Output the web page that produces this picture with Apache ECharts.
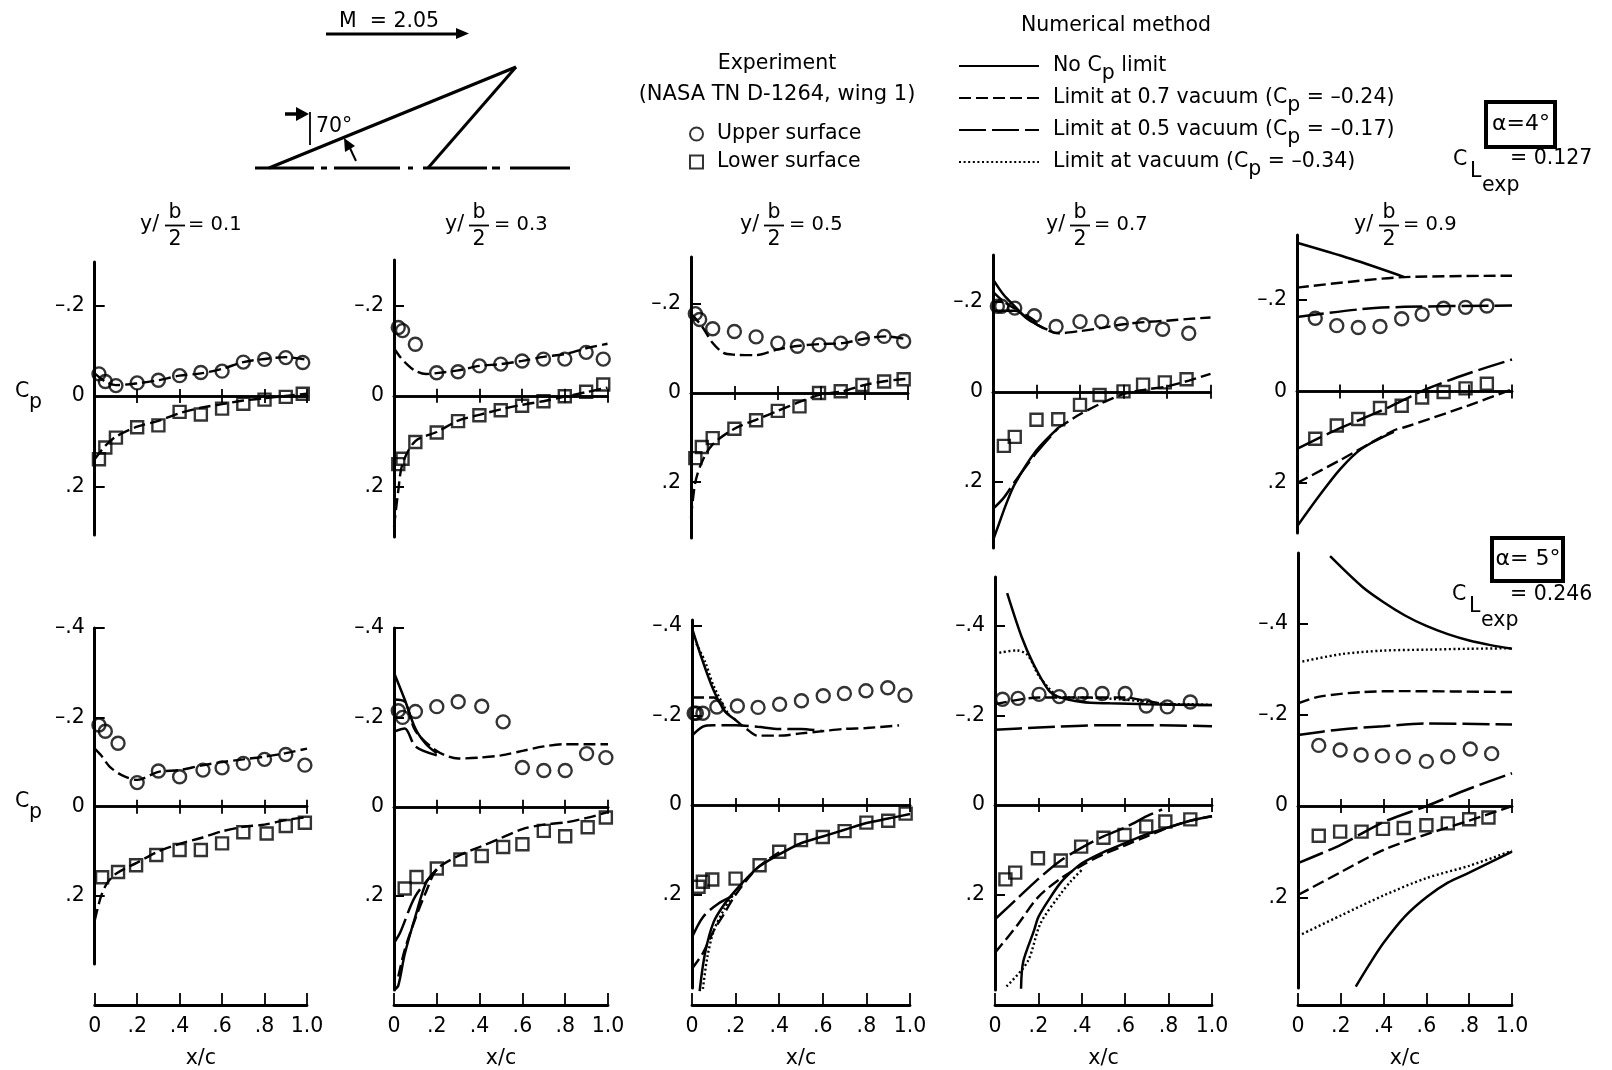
<!DOCTYPE html>
<html><head><meta charset="utf-8">
<style>html,body{margin:0;padding:0;background:#fff}#c{width:1612px;height:1070px}</style>
<script src="https://cdn.jsdelivr.net/npm/echarts@6/dist/echarts.min.js"></script>
</head><body><div id="c"></div>
<script>
// ---------- tick labels and names ----------
const xTicks = [0, .2, .4, .6, .8, 1];
const yTicksTop = [-.2, 0, .2];
const yTicksBottom = [-.4, -.2, 0, .2];
const methodNames = ['No Cp limit', 'Limit at 0.7 vacuum (Cp = -0.24)', 'Limit at 0.5 vacuum (Cp = -0.17)', 'Limit at vacuum (Cp = -0.34)'];
const surfaceNames = ['Upper surface', 'Lower surface'];
const spanStations = ['0.1', '0.3', '0.5', '0.7', '0.9'];

// ---------- alpha = 4 deg : experiment ----------
const a4s1Up = [[.02,-.049],[.05,-.032],[.1,-.023],[.2,-.029],[.3,-.035],[.4,-.045],[.5,-.052],[.6,-.055],[.7,-.075],[.8,-.081],[.9,-.085],[.98,-.074]];
const a4s1Lo = [[.02,.14],[.05,.114],[.1,.092],[.2,.069],[.3,.065],[.4,.035],[.5,.041],[.6,.028],[.7,.017],[.8,.008],[.9,.002],[.98,-.005]];
const a4s3Up = [[.02,-.151],[.04,-.144],[.1,-.114],[.2,-.051],[.3,-.053],[.4,-.066],[.5,-.07],[.6,-.077],[.7,-.081],[.8,-.081],[.9,-.096],[.98,-.081]];
const a4s3Lo = [[.02,.151],[.04,.139],[.1,.102],[.2,.081],[.3,.056],[.4,.043],[.5,.032],[.6,.022],[.7,.012],[.8,.001],[.9,-.009],[.98,-.025]];
const a4s5Up = [[.02,-.178],[.04,-.165],[.1,-.144],[.2,-.138],[.3,-.126],[.4,-.112],[.49,-.105],[.59,-.108],[.69,-.112],[.79,-.122],[.89,-.127],[.98,-.116]];
const a4s5Lo = [[.02,.146],[.05,.121],[.1,.101],[.2,.08],[.3,.061],[.4,.04],[.5,.03],[.59,0],[.69,-.004],[.79,-.018],[.89,-.026],[.98,-.031]];
const a4s7Up = [[.02,-.19],[.04,-.19],[.1,-.186],[.19,-.169],[.29,-.145],[.4,-.156],[.5,-.156],[.59,-.151],[.69,-.149],[.78,-.139],[.9,-.13]];
const a4s7Lo = [[.05,.12],[.1,.1],[.2,.062],[.3,.061],[.4,.029],[.49,.007],[.6,-.001],[.69,-.016],[.79,-.021],[.89,-.028]];
const a4s9Up = [[.085,-.16],[.185,-.144],[.285,-.14],[.386,-.142],[.487,-.159],[.582,-.169],[.682,-.182],[.784,-.184],[.883,-.187]];
const a4s9Lo = [[.085,.103],[.185,.074],[.285,.06],[.386,.036],[.487,.031],[.582,.013],[.682,.001],[.784,-.007],[.883,-.017]];

// ---------- alpha = 4 deg : numerical method ----------
const a4s1L7Up = [[0,-.05],[.05,-.032],[.1,-.024],[.2,-.028],[.3,-.035],[.4,-.045],[.5,-.05],[.6,-.06],[.7,-.075],[.8,-.082],[.9,-.086],[1,-.08]];
const a4s1L7Lo = [[0,.14],[.05,.11],[.1,.09],[.2,.068],[.3,.055],[.4,.038],[.5,.026],[.6,.018],[.7,.01],[.8,.005],[.9,0],[1,-.005]];
const a4s3L7Up = [[0,-.105],[.03,-.085],[.06,-.07],[.1,-.055],[.15,-.048],[.2,-.05],[.3,-.056],[.4,-.066],[.5,-.07],[.6,-.077],[.7,-.086],[.8,-.092],[.9,-.105],[1,-.115]];
const a4s3L7Lo = [[0,.29],[.02,.21],[.04,.15],[.1,.1],[.2,.08],[.3,.055],[.4,.042],[.5,.03],[.6,.02],[.7,.012],[.8,.002],[.9,-.008],[1,-.018]];
const a4s5L7Up = [[0,-.178],[.05,-.15],[.1,-.112],[.15,-.09],[.2,-.086],[.3,-.085],[.4,-.098],[.5,-.106],[.6,-.11],[.7,-.112],[.8,-.122],[.9,-.127],[1,-.12]];
const a4s5L7Lo = [[0,.28],[.02,.2],[.05,.155],[.1,.115],[.2,.08],[.3,.06],[.4,.04],[.5,.02],[.6,.003],[.7,-.004],[.8,-.018],[.9,-.027],[1,-.032]];
const a4s7NoUp = [[0,-.25],[.05,-.215],[.1,-.19],[.15,-.165],[.2,-.15],[.25,-.138]];
const a4s7L7Up = [[0,-.222],[.05,-.2],[.1,-.185],[.2,-.15],[.3,-.13],[.4,-.135],[.5,-.142],[.6,-.15],[.7,-.155],[.8,-.158],[.9,-.162],[1,-.165]];
const a4s7L5Up = [[0,-.18],[.1,-.18],[.2,-.155]];
const a4s7NoLo = [[0,.33],[.03,.29],[.06,.25],[.1,.205],[.2,.13],[.3,.08]];
const a4s7L5Lo = [[0,.26],[.05,.235],[.1,.2],[.2,.135],[.3,.08]];
const a4s7L7Lo = [[.3,.08],[.4,.05],[.5,.025],[.6,.005],[.7,-.005],[.8,-.012],[.9,-.025],[1,-.04]];
const a4s9NoUp = [[0,-.325],[.25,-.29],[.5,-.25]];
const a4s9L7Up = [[0,-.227],[.25,-.24],[.5,-.25],[1,-.253]];
const a4s9L5Up = [[0,-.163],[.3,-.18],[.5,-.185],[1,-.188]];
const a4s9L5Lo = [[0,.125],[.2,.08],[.4,.04],[.6,-.005],[.8,-.04],[1,-.07]];
const a4s9L7Lo = [[0,.2],[.2,.15],[.45,.085],[.5,.078],[.8,.03],[1,-.005]];
const a4s9NoLo = [[0,.295],[.1,.23],[.2,.17],[.3,.125],[.45,.088]];

// ---------- alpha = 5 deg : experiment ----------
const a5s1Up = [[.02,-.183],[.05,-.169],[.11,-.142],[.2,-.054],[.3,-.08],[.4,-.067],[.51,-.082],[.6,-.087],[.7,-.097],[.8,-.106],[.9,-.117],[.99,-.093]];
const a5s1Lo = [[.035,.158],[.11,.146],[.195,.131],[.29,.108],[.4,.097],[.5,.097],[.6,.082],[.7,.057],[.81,.06],[.9,.043],[.99,.036]];
const a5s3Up = [[.02,-.215],[.04,-.2],[.1,-.213],[.2,-.224],[.3,-.235],[.41,-.225],[.51,-.19],[.6,-.088],[.7,-.081],[.8,-.081],[.9,-.119],[.99,-.11]];
const a5s3Lo = [[.05,.183],[.105,.157],[.2,.138],[.31,.118],[.41,.11],[.51,.09],[.6,.084],[.7,.054],[.8,.066],[.905,.046],[.99,.024]];
const a5s5Up = [[.01,-.205],[.02,-.205],[.05,-.205],[.114,-.219],[.208,-.221],[.303,-.218],[.402,-.225],[.502,-.233],[.602,-.244],[.699,-.249],[.798,-.255],[.898,-.262],[.977,-.245]];
const a5s5Lo = [[.03,.182],[.05,.171],[.093,.166],[.2,.164],[.31,.134],[.4,.104],[.5,.078],[.6,.071],[.7,.058],[.8,.039],[.9,.035],[.98,.019]];
const a5s7Up = [[.035,-.236],[.106,-.238],[.203,-.247],[.296,-.242],[.397,-.247],[.494,-.249],[.6,-.249],[.697,-.221],[.794,-.219],[.9,-.23]];
const a5s7Lo = [[.048,.166],[.093,.151],[.198,.119],[.303,.124],[.397,.093],[.5,.073],[.597,.067],[.697,.048],[.785,.037],[.9,.032]];
const a5s9Up = [[.097,-.133],[.197,-.123],[.295,-.112],[.394,-.11],[.492,-.108],[.6,-.098],[.7,-.108],[.805,-.125],[.905,-.115]];
const a5s9Lo = [[.097,.065],[.197,.056],[.297,.056],[.397,.05],[.494,.048],[.6,.042],[.7,.038],[.8,.029],[.89,.025]];

// ---------- alpha = 5 deg : numerical method ----------
const a5s1L7Up = [[0,-.13],[.03,-.115],[.07,-.09],[.13,-.07],[.2,-.06],[.3,-.078],[.4,-.082],[.5,-.092],[.6,-.1],[.7,-.106],[.8,-.112],[.9,-.12],[1,-.13]];
const a5s1L7Lo = [[0,.255],[.03,.2],[.06,.17],[.1,.15],[.2,.125],[.3,.1],[.4,.083],[.5,.07],[.6,.055],[.7,.045],[.8,.04],[.9,.03],[1,.023]];
const a5s3NoUp = [[0,-.3],[.05,-.24],[.1,-.175],[.15,-.14],[.2,-.12]];
const a5s3L5Up = [[0,-.168],[.05,-.175],[.1,-.135],[.2,-.115]];
const a5s3L7Up = [[0,-.24],[.05,-.235],[.1,-.17],[.2,-.125],[.3,-.108],[.4,-.11],[.5,-.115],[.6,-.125],[.7,-.135],[.8,-.14],[.9,-.14],[1,-.14]];
const a5s3NoLo = [[0,.41],[.02,.4],[.05,.33],[.1,.245],[.15,.17],[.2,.14]];
const a5s3L5Lo = [[0,.305],[.03,.28],[.1,.2],[.2,.14]];
const a5s3L7Lo = [[.02,.38],[.05,.32],[.1,.25],[.15,.19],[.2,.14],[.3,.11],[.4,.09],[.5,.07],[.6,.05],[.7,.04],[.8,.035],[.9,.025],[1,.012]];
const a5s5NoUp = [[0,-.395],[.05,-.32],[.1,-.255],[.15,-.21],[.2,-.19]];
const a5s5VacUp = [[.02,-.36],[.06,-.32],[.1,-.265],[.17,-.2]];
const a5s5L7Up = [[0,-.24],[.1,-.24],[.15,-.21],[.2,-.19],[.25,-.17],[.3,-.155],[.4,-.155],[.5,-.16],[.6,-.165],[.7,-.17],[.8,-.172],[.95,-.178]];
const a5s5L5Up = [[0,-.155],[.05,-.175],[.1,-.178],[.2,-.178],[.3,-.175],[.4,-.17],[.5,-.17],[.6,-.165]];
const a5s5L5Lo = [[0,.295],[.05,.25],[.12,.22],[.2,.2]];
const a5s5L7Lo = [[0,.365],[.05,.33],[.1,.28],[.15,.24],[.2,.2],[.3,.14],[.4,.105]];
const a5s5NoLo = [[.035,.415],[.06,.33],[.1,.26],[.15,.22],[.2,.19],[.3,.14],[.4,.11],[.5,.085],[.6,.07],[.7,.055],[.8,.04],[.9,.03],[1,.02]];
const a5s5VacLo = [[.05,.41],[.07,.34],[.1,.28],[.15,.23],[.2,.19]];
const a5s7NoUp = [[.056,-.473],[.123,-.375],[.176,-.316],[.247,-.256],[.29,-.242],[.4,-.23],[.53,-.227],[.7,-.225],[1,-.223]];
const a5s7VacUp = [[.02,-.34],[.1,-.345],[.15,-.335],[.2,-.29],[.25,-.26],[.3,-.24],[.4,-.24],[.6,-.235],[.7,-.23],[.8,-.225],[.9,-.225],[1,-.223]];
const a5s7L7Up = [[0,-.225],[.2,-.24],[.6,-.24],[.7,-.232],[.8,-.225],[1,-.223]];
const a5s7L5Up = [[0,-.168],[.2,-.173],[.5,-.178],[.7,-.178],[1,-.176]];
const a5s7L5Lo = [[0,.255],[.1,.21],[.2,.165],[.3,.125],[.4,.095],[.5,.07],[.6,.05],[.7,.025],[.77,.01]];
const a5s7L7Lo = [[0,.33],[.1,.27],[.2,.205],[.3,.165],[.4,.135],[.5,.11],[.6,.09],[.7,.07],[.8,.05],[.9,.035],[1,.025]];
const a5s7NoLo = [[.12,.41],[.13,.35],[.18,.28],[.2,.25],[.25,.21],[.3,.175],[.35,.15],[.4,.13],[.5,.105],[.6,.085],[.7,.065],[.8,.05],[.9,.035],[1,.025]];
const a5s7VacLo = [[.053,.405],[.15,.35],[.21,.264],[.3,.2],[.35,.17],[.4,.145]];
const a5s9NoUp = [[.15,-.548],[.3,-.481],[.4,-.447],[.5,-.418],[.6,-.395],[.7,-.377],[.8,-.363],[.9,-.353],[1,-.345]];
const a5s9VacUp = [[0,-.315],[.2,-.333],[.4,-.341],[.6,-.343],[.8,-.345],[1,-.346]];
const a5s9L7Up = [[0,-.225],[.1,-.24],[.3,-.25],[.5,-.252],[1,-.25]];
const a5s9L5Up = [[0,-.156],[.2,-.168],[.4,-.175],[.6,-.181],[1,-.179]];
const a5s9L5Lo = [[0,.125],[.2,.085],[.4,.035],[.6,0],[.8,-.038],[1,-.072]];
const a5s9L7Lo = [[0,.195],[.2,.145],[.4,.096],[.6,.062],[.8,.032],[1,0]];
const a5s9VacLo = [[0,.285],[.2,.24],[.4,.196],[.6,.158],[.8,.131],[1,.098]];
const a5s9NoLo = [[.27,.396],[.33,.35],[.4,.3],[.5,.242],[.6,.2],[.7,.168],[.8,.146],[.9,.123],[1,.1]];

// ---------- panel table built from the arrays above ----------
const NO = 0, L7 = 1, L5 = 2, VAC = 3;
const panels = [
 {box:[94.7,307,262,535],y:[-.2965,.3075],up:a4s1Up,lo:a4s1Lo,lines:[[L7,a4s1L7Up],[L7,a4s1L7Lo]]},
 {box:[394,607.5,260,537],y:[-.30,.312],up:a4s3Up,lo:a4s3Lo,lines:[[L7,a4s3L7Up],[L7,a4s3L7Lo]]},
 {box:[691,908,257,538],y:[-.305,.325],up:a4s5Up,lo:a4s5Lo,lines:[[L7,a4s5L7Up],[L7,a4s5L7Lo]]},
 {box:[993,1210.5,255,548],y:[-.304,.347],up:a4s7Up,lo:a4s7Lo,lines:[[NO,a4s7NoUp],[L7,a4s7L7Up],[L5,a4s7L5Up],[NO,a4s7NoLo],[L5,a4s7L5Lo],[L7,a4s7L7Lo]]},
 {box:[1297,1512,235,533],y:[-.342,.309],up:a4s9Up,lo:a4s9Lo,lines:[[NO,a4s9NoUp],[L7,a4s9L7Up],[L5,a4s9L5Up],[L5,a4s9L5Lo],[L7,a4s9L7Lo],[NO,a4s9NoLo]]},
 {box:[94.7,307,628,964],y:[-.4,.352],up:a5s1Up,lo:a5s1Lo,lines:[[L7,a5s1L7Up],[L7,a5s1L7Lo]],bottom:true},
 {box:[394,608,628,990],y:[-.4,.41],up:a5s3Up,lo:a5s3Lo,lines:[[NO,a5s3NoUp],[L5,a5s3L5Up],[L7,a5s3L7Up],[NO,a5s3NoLo],[L5,a5s3L5Lo],[L7,a5s3L7Lo]],bottom:true},
 {box:[692,910,620,988],y:[-.413,.408],up:a5s5Up,lo:a5s5Lo,lines:[[NO,a5s5NoUp],[VAC,a5s5VacUp],[L7,a5s5L7Up],[L5,a5s5L5Up],[L5,a5s5L5Lo],[L7,a5s5L7Lo],[NO,a5s5NoLo],[VAC,a5s5VacLo]],bottom:true},
 {box:[995,1212,577,990],y:[-.509,.413],up:a5s7Up,lo:a5s7Lo,lines:[[NO,a5s7NoUp],[VAC,a5s7VacUp],[L7,a5s7L7Up],[L5,a5s7L5Up],[L5,a5s7L5Lo],[L7,a5s7L7Lo],[NO,a5s7NoLo],[VAC,a5s7VacLo]],bottom:true},
 {box:[1298,1512,553,988],y:[-.555,.399],up:a5s9Up,lo:a5s9Lo,lines:[[NO,a5s9NoUp],[VAC,a5s9VacUp],[L7,a5s9L7Up],[L5,a5s9L5Up],[L5,a5s9L5Lo],[L7,a5s9L7Lo],[VAC,a5s9VacLo],[NO,a5s9NoLo]],bottom:true}
];
const INK = '#000';
const FONT = 'DejaVu Sans';
const FS = 20.5;
const lineStyles = [
  {color:INK,width:2.5,type:'solid'},
  {color:INK,width:2.4,type:[12,5]},
  {color:INK,width:2.5,type:[27,6]},
  {color:INK,width:2.4,type:[2,2.6]}
];
const markerStyle = {color:'transparent',borderColor:INK,borderWidth:2.4};
const numFmt = v => v === 0 ? '0' : (v === 1 ? '1.0' : (v < 0 ? '–' : '') + String(Math.abs(v)).replace(/^0/,''));

const grids=[],xAxes=[],yAxes=[],series=[];
panels.forEach((p)=>{
  const g=grids.length;
  const [l,r,t,b]=p.box;
  grids.push({left:l,top:t,width:r-l,height:b-t,containLabel:false});
  const yA=yAxes.length;
  const labels=p.bottom?yTicksBottom:yTicksTop;
  const common={gridIndex:g,type:'value',min:0,max:1,interval:.2,splitLine:{show:false},axisLabel:{show:false}};
  const xA=xAxes.length;
  xAxes.push({...common,position:'bottom',axisLine:{onZero:true,onZeroAxisIndex:yA,lineStyle:{color:INK,width:2.6}},axisTick:{show:true,length:7,lineStyle:{color:INK,width:1.8}}});
  xAxes.push({...common,position:'top',axisLine:{show:true,onZero:true,onZeroAxisIndex:yA,lineStyle:{color:INK,width:2.6}},axisTick:{show:true,length:7,lineStyle:{color:INK,width:1.8}}});
  yAxes.push({gridIndex:g,type:'value',inverse:true,min:p.y[0],max:p.y[1],splitLine:{show:false},
    axisLine:{onZero:true,lineStyle:{color:INK,width:3}},
    axisTick:{show:true,inside:true,length:10,customValues:labels.filter(v=>v!==0),lineStyle:{color:INK,width:2}},
    axisLabel:{show:true,margin:10,color:INK,fontFamily:FONT,fontSize:FS,customValues:labels,formatter:numFmt}});
  series.push({type:'scatter',name:surfaceNames[0],xAxisIndex:xA,yAxisIndex:yA,data:p.up,symbol:'circle',symbolSize:13,itemStyle:markerStyle,clip:false,z:5,silent:true});
  series.push({type:'scatter',name:surfaceNames[1],xAxisIndex:xA,yAxisIndex:yA,data:p.lo,symbol:'rect',symbolSize:12,itemStyle:markerStyle,clip:false,z:5,silent:true});
  p.lines.forEach(([m,d])=>series.push({type:'line',name:methodNames[m],xAxisIndex:xA,yAxisIndex:yA,data:d,smooth:.3,symbol:'none',showSymbol:false,lineStyle:lineStyles[m],itemStyle:{color:INK},clip:false,z:3,silent:true}));
  if(p.bottom){
    const gb=grids.length;
    grids.push({left:l,top:996,width:r-l,height:13});
    xAxes.push({gridIndex:gb,type:'value',min:0,max:1,interval:.2,position:'bottom',splitLine:{show:false},
      axisLine:{onZero:false,lineStyle:{color:INK,width:2.8}},
      axisTick:{show:true,inside:true,length:12,lineStyle:{color:INK,width:1.8}},
      axisLabel:{show:true,margin:11,color:INK,fontFamily:FONT,fontSize:FS,customValues:xTicks,formatter:numFmt},
      name:'x/c',nameLocation:'middle',nameGap:43,nameTextStyle:{color:INK,fontFamily:FONT,fontSize:FS}});
    yAxes.push({gridIndex:gb,type:'value',min:0,max:1,show:false});
  }
});

// ---------- annotation helpers ----------
const T=(x,y,text,o={})=>({type:'text',x,y,silent:true,style:{text,fontFamily:FONT,fontSize:o.fs||FS,fill:INK,textAlign:o.a||'left',textVerticalAlign:'middle',verticalAlign:'middle',...(o.s||{})}});
const L=(x1,y1,x2,y2,w=2,dash)=>({type:'line',silent:true,shape:{x1,y1,x2,y2},style:{stroke:INK,lineWidth:w,lineDash:dash}});
const TRI=(pts)=>({type:'polygon',silent:true,shape:{points:pts},style:{fill:INK}});
const g=[];
// wing sketch
g.push(T(339,22,'M  = 2.05'));
g.push(L(326,34,458,34,3));
g.push(TRI([[456,28],[469,33.5],[456,39]]));
g.push(L(269,168,516,67,3.2),L(516,67,428,168,3));
[[255,314],[321,327],[334,400],[408,413],[423,487],[492,500],[510,570]].forEach(s=>g.push(L(s[0],168,s[1],168,3)));
g.push(L(310,112,310,145,1.8));
g.push(L(285,114,298,114,3.5));
g.push(TRI([[296,107],[309,114],[296,121]]));
g.push(T(316,127,'70°'));
g.push(L(356,161,349,146,2));
g.push(TRI([[344,138],[355,146],[345,152]]));
// legend headings
g.push(T(1116,26,'Numerical method',{a:'center'}));
g.push(T(777,64,'Experiment',{a:'center'}));
g.push(T(777,95,'(NASA TN D-1264, wing 1)',{a:'center',fs:21}));
// alpha boxes
const box=(x,y,w,h,text,cx,cy)=>{
  g.push({type:'rect',silent:true,shape:{x,y,width:w,height:h},style:{fill:'none',stroke:INK,lineWidth:4}});
  g.push(T(cx,cy,text,{a:'center',fs:22}));
};
box(1486,102,69,45,'α=4°',1521,124);
box(1492,538,71,43,'α= 5°',1528,559);
g.push(T(1453,160,'C'),T(1470,172,'L'),T(1482,186,'exp'),T(1510,159,'= 0.127'));
g.push(T(1452,595,'C'),T(1469,607,'L'),T(1481,621,'exp'),T(1510,595,'= 0.246'));
// Cp labels
g.push(T(15,392,'C'),T(29,403,'p'));
g.push(T(15,802,'C'),T(29,813,'p'));
// span labels
const spanX=[[140,175,188],[445,479,494],[740,774,789],[1046,1080,1094],[1354,1389,1403]];
spanStations.forEach((s,i)=>{
  const [a,f,e]=spanX[i];
  g.push(T(a,225,'y/'),T(f,213,'b',{a:'center'}),L(f-10,225.5,f+10,225.5,1.8),T(f,240,'2',{a:'center'}),T(e,225,'= '+s,{fs:19.5}));
});

const rich={g:{width:9,lineHeight:36,fontSize:FS},n:{fontFamily:FONT,fontSize:FS,color:INK,lineHeight:36},s:{fontFamily:FONT,fontSize:FS,color:INK,lineHeight:20,verticalAlign:'bottom'}};
const richName=n=>'{g|}'+n.replace('-0','–0').replace(/^(.*C)p(.*)$/,(m,a,b)=>`{n|${a}}{s|p}{n|${b}}`);
const richSurface=n=>'{g|}{n|'+n+'}';

const option={
  animation:false,backgroundColor:'#fff',
  textStyle:{fontFamily:FONT},
  grid:grids,xAxis:xAxes,yAxis:yAxes,series,
  legend:[
    {data:methodNames,orient:'vertical',left:958,top:48,itemWidth:80,itemHeight:14,itemGap:-4,selectedMode:false,padding:0,
     itemStyle:{color:'transparent',borderWidth:0},
     formatter:richName,textStyle:{rich,fontFamily:FONT,fontSize:FS,color:INK,lineHeight:36}},
    {data:surfaceNames,orient:'vertical',left:689,top:116,itemWidth:13,itemHeight:13,itemGap:-8,selectedMode:false,padding:0,
     formatter:richSurface,textStyle:{rich,fontFamily:FONT,fontSize:FS,color:INK,lineHeight:36}}
  ],
  graphic:{elements:g}
};
echarts.init(document.getElementById('c'),null,{renderer:'canvas'}).setOption(option);
</script></body></html>
